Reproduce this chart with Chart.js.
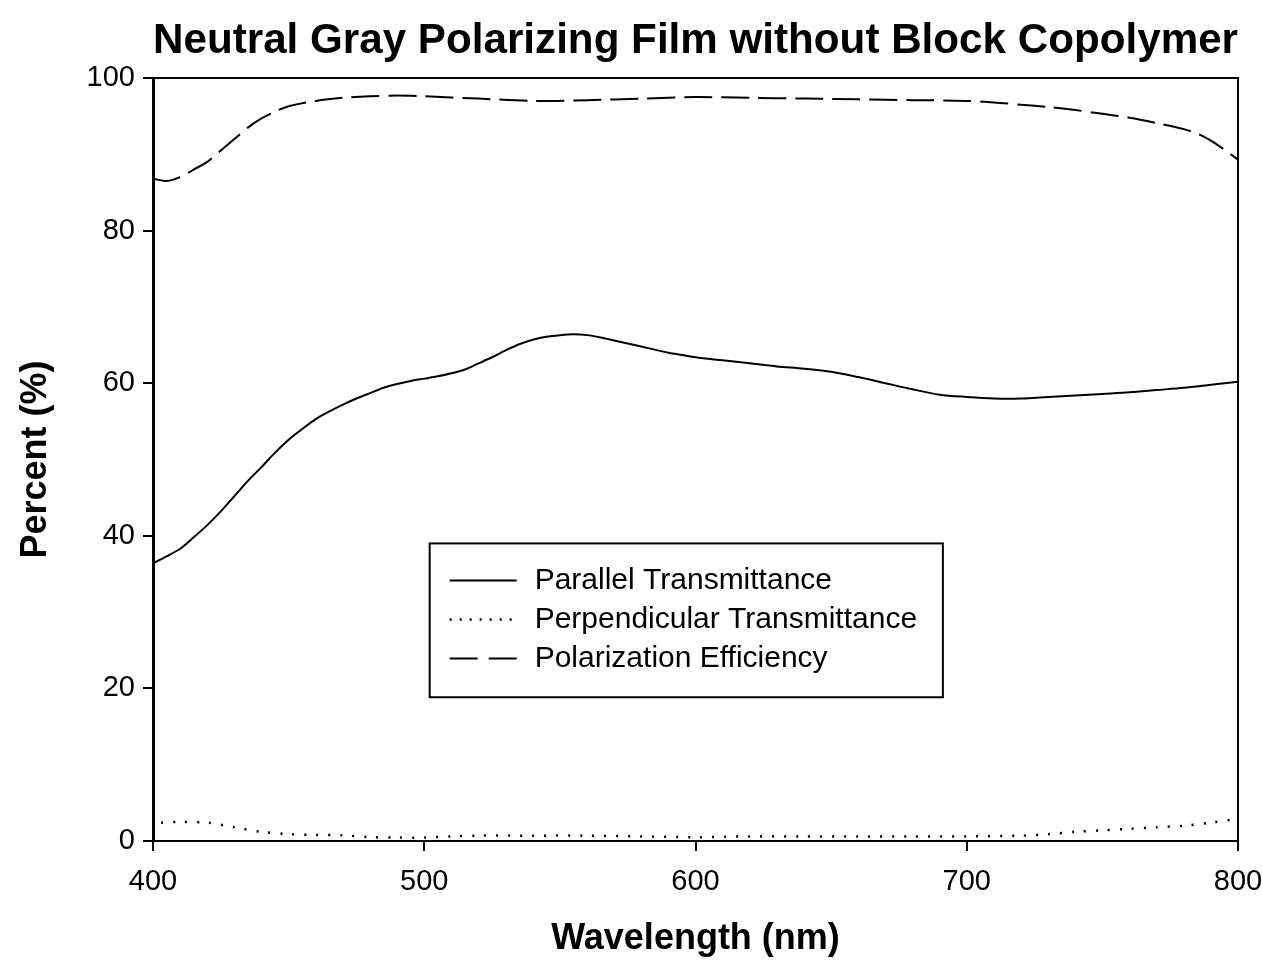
<!DOCTYPE html>
<html>
<head>
<meta charset="utf-8">
<title>Neutral Gray Polarizing Film</title>
<script src="https://cdn.jsdelivr.net/npm/chart.js@4/dist/chart.umd.min.js"></script>
<style>
    html, body { margin: 0; padding: 0; background: #fff; }
    #wrap { width: 1262px; height: 962px; position: relative; }
</style>
</head>
<body>
<div id="wrap"><canvas id="filmChart"></canvas></div>
<script>
// Spectra of the film, wavelength in nm, values in percent
const parallelWl = [400, 405, 410, 415, 420, 425, 430, 435, 440, 445, 450, 455, 460, 465, 470, 475, 480, 485, 490, 495,
    500, 505, 510, 515, 520, 525, 530, 535, 540, 545, 550, 555, 560, 565, 570, 575, 580, 585, 590, 595,
    600, 610, 620, 630, 640, 650, 660, 670, 680, 690, 700, 710, 720, 730, 740, 750, 760, 770, 780, 790, 800];
const parallelT = [36.4, 37.3, 38.3, 39.8, 41.4, 43.2, 45.2, 47.2, 49.0, 50.9, 52.6, 54.0, 55.3, 56.3, 57.2, 58.0, 58.7, 59.4, 59.9, 60.3,
    60.6, 60.9, 61.3, 61.8, 62.6, 63.4, 64.3, 65.1, 65.7, 66.1, 66.3, 66.4, 66.3, 66.0, 65.6, 65.2, 64.8, 64.4, 64.0, 63.7,
    63.4, 63.0, 62.6, 62.2, 61.9, 61.5, 60.8, 60.0, 59.2, 58.5, 58.2, 58.0, 58.0, 58.2, 58.4, 58.6, 58.8, 59.1, 59.4, 59.8, 60.2];

const perpWl = [403, 410, 420, 430, 440, 450, 460, 470, 480, 490, 500, 510, 520, 540, 560, 580, 600, 620, 640, 660,
    680, 700, 720, 730, 740, 750, 760, 770, 780, 790, 800];
const perpT = [2.4, 2.5, 2.4, 1.8, 1.2, 0.9, 0.8, 0.75, 0.5, 0.45, 0.45, 0.6, 0.7, 0.7, 0.7, 0.6, 0.5, 0.6, 0.6, 0.6,
    0.6, 0.6, 0.7, 0.9, 1.2, 1.4, 1.6, 1.8, 2.0, 2.4, 2.9];

const effWl = [400, 405, 410, 415, 420, 425, 430, 435, 440, 445, 450, 460, 470, 480, 490, 500, 520, 540, 560, 580,
    600, 620, 640, 660, 680, 700, 710, 720, 730, 740, 750, 760, 770, 780, 785, 790, 795, 800];
const effPct = [86.8, 86.5, 87.0, 88.0, 89.0, 90.5, 92.0, 93.5, 94.7, 95.6, 96.3, 97.0, 97.4, 97.6, 97.7, 97.6, 97.3, 97.0, 97.1, 97.3,
    97.5, 97.4, 97.3, 97.2, 97.1, 97.0, 96.8, 96.5, 96.2, 95.8, 95.3, 94.8, 94.1, 93.3, 92.7, 91.8, 90.6, 89.3];

const xTicks = [400, 500, 600, 700, 800];
const yTicks = [0, 20, 40, 60, 80, 100];

const FONT = 'Arial, "Liberation Sans", sans-serif';

function toPoints(xs, ys) {
    return xs.map((x, i) => ({ x: x, y: ys[i] }));
}

// closes the plot frame on the top and right sides
const framePlugin = {
    id: 'frame',
    afterDatasetsDraw(chart) {
        const { ctx, chartArea: a } = chart;
        ctx.save();
        ctx.strokeStyle = '#000';
        ctx.lineWidth = 2;
        ctx.beginPath();
        ctx.moveTo(a.left, a.top);
        ctx.lineTo(a.right, a.top);
        ctx.lineTo(a.right, a.bottom);
        ctx.stroke();
        ctx.restore();
    }
};

// boxed legend sitting inside the plot
const boxLegendPlugin = {
    id: 'boxLegend',
    afterDraw(chart) {
        const { ctx, chartArea: a } = chart;
        const w = a.right - a.left, h = a.bottom - a.top;
        const bx = a.left + 0.255 * w, by = a.top + 0.61 * h;
        const bw = 0.473 * w, bh = 0.2016 * h;
        ctx.save();
        ctx.fillStyle = '#fff';
        ctx.fillRect(bx, by, bw, bh);
        ctx.strokeStyle = '#000';
        ctx.lineWidth = 2;
        ctx.strokeRect(bx, by, bw, bh);
        ctx.font = '30px ' + FONT;
        ctx.textBaseline = 'middle';
        ctx.fillStyle = '#000';
        chart.data.datasets.forEach((ds, i) => {
            const y = by + 37 + i * 39;
            ctx.beginPath();
            ctx.setLineDash(ds.legendDash || []);
            ctx.lineWidth = ds.borderWidth;
            ctx.moveTo(bx + 20, y);
            ctx.lineTo(bx + 87, y);
            ctx.stroke();
            ctx.setLineDash([]);
            ctx.fillText(ds.label, bx + 105, y);
        });
        ctx.restore();
    }
};

const ctx = document.getElementById('filmChart').getContext('2d');
const filmChart = new Chart(ctx, {
    type: 'line',
    data: {
        datasets: [
            {
                label: 'Parallel Transmittance',
                data: toPoints(parallelWl, parallelT),
                borderColor: '#000',
                borderWidth: 2,
                legendDash: []
            },
            {
                label: 'Perpendicular Transmittance',
                data: toPoints(perpWl, perpT),
                borderColor: '#000',
                borderWidth: 2.5,
                borderDash: [2, 10],
                legendDash: [2, 8]
            },
            {
                label: 'Polarization Efficiency',
                data: toPoints(effWl, effPct),
                borderColor: '#000',
                borderWidth: 2,
                borderDash: [28, 9],
                legendDash: [28, 11]
            }
        ]
    },
    options: {
        responsive: true,
        maintainAspectRatio: false,
        animation: false,
        layout: { padding: { left: 0, right: 0, top: 0, bottom: 0 } },
        elements: {
            point: { radius: 0 },
            line: { tension: 0.3, fill: false }
        },
        plugins: {
            legend: { display: false },
            tooltip: { enabled: false },
            title: {
                display: true,
                fullSize: false,
                text: 'Neutral Gray Polarizing Film without Block Copolymer',
                color: '#000',
                font: { family: FONT, size: 42.5, weight: 'bold' },
                padding: { top: 16, bottom: 11 },
                align: 'center'
            }
        },
        scales: {
            x: {
                type: 'linear',
                min: 400,
                max: 800,
                afterBuildTicks: s => { s.ticks = xTicks.map(v => ({ value: v })); },
                afterFit: s => {
                    s.height = 121;
                    s.paddingLeft = 0;
                    s.paddingRight = 24;
                },
                grid: { drawOnChartArea: false, drawTicks: true, tickLength: 10, color: '#000', lineWidth: 2 },
                border: { display: true, color: '#000', width: 2 },
                ticks: { color: '#000', padding: 14, font: { family: FONT, size: 29 } },
                title: {
                    display: true,
                    text: 'Wavelength (nm)',
                    color: '#000',
                    font: { family: FONT, size: 36, weight: 'bold' },
                    padding: { top: 0, bottom: 1 }
                }
            },
            y: {
                min: 0,
                max: 100,
                afterBuildTicks: s => { s.ticks = yTicks.map(v => ({ value: v })); },
                afterFit: s => { s.width = 153; },
                grid: { drawOnChartArea: false, drawTicks: true, tickLength: 10, color: '#000', lineWidth: 2 },
                border: { display: true, color: '#000', width: 3 },
                ticks: { color: '#000', padding: 8, font: { family: FONT, size: 29 } },
                title: {
                    display: true,
                    text: 'Percent (%)',
                    color: '#000',
                    font: { family: FONT, size: 36, weight: 'bold' },
                    padding: { top: 14, bottom: 0 }
                }
            }
        }
    },
    plugins: [framePlugin, boxLegendPlugin]
});
</script>
</body>
</html>
